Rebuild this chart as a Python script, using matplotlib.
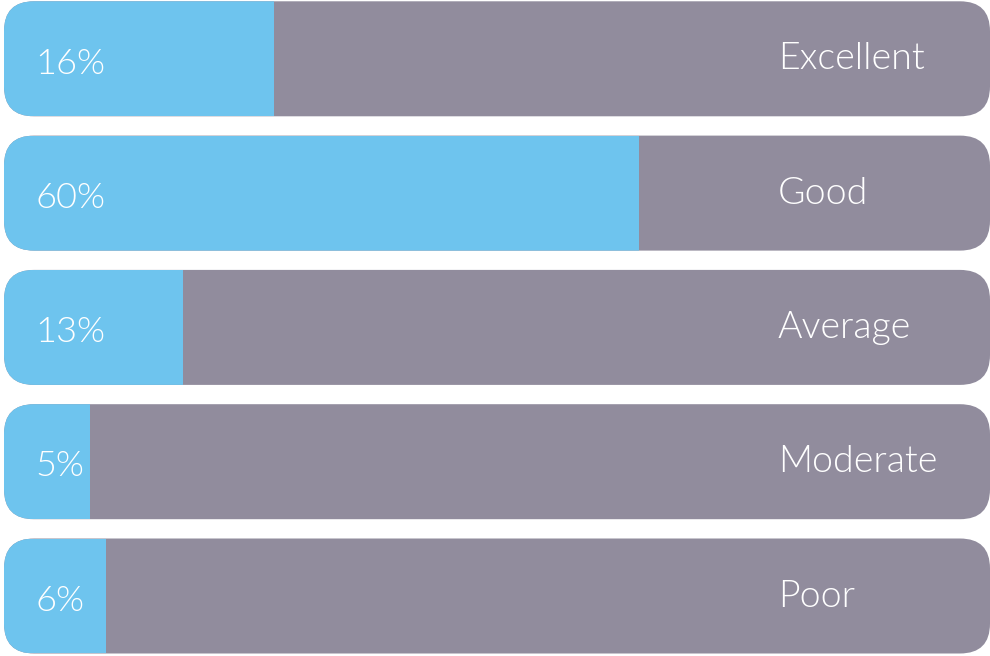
import matplotlib
matplotlib.use("Agg")
import matplotlib.pyplot as plt
from matplotlib.patches import FancyBboxPatch

categories = ["Excellent", "Good", "Average", "Moderate", "Poor"]
pct_labels = ["16%", "60%", "13%", "5%", "6%"]
# visible fill length of the blue part, as % of the track
fill = [27.4, 64.4, 18.2, 8.7, 10.3]

track_color = "#918c9d"
fill_color = "#6ec4ee"

W, H = 990, 656
fig = plt.figure(figsize=(W / 100, H / 100), dpi=100)
left_px, right_px = 4, 990
ax = fig.add_axes([left_px / W, 0, (right_px - left_px) / W, 1])
ax.set_xlim(0, 100)
spacing = 134.3
top_center = 58.8
y_top = -top_center / spacing
y_bot = y_top + H / spacing
ax.set_ylim(y_bot, y_top)
ax.axis("off")

px_x = (right_px - left_px) / 100.0
bar_h = 115 / spacing
radius_px = 30
rx = radius_px / px_x
ry = radius_px / spacing
aspect = ry / rx

for i, (cat, lab, f) in enumerate(zip(categories, pct_labels, fill)):
    track = FancyBboxPatch((0, i - bar_h / 2), 100, bar_h,
                           boxstyle=f"round,pad=0,rounding_size={rx}",
                           mutation_aspect=aspect,
                           facecolor=track_color, edgecolor="none", zorder=1)
    ax.add_patch(track)
    bars = ax.barh([i], [f], height=bar_h, left=0, color=fill_color, zorder=2)
    for b in bars:
        b.set_clip_path(track)
    ax.text(3.2, i + 0.035, lab, color="white", fontsize=26, family="Lato",
            fontweight=300, va="center", ha="left", zorder=3)
    ax.text(78.5, i + 0.005, cat, color="white", fontsize=27, family="Lato",
            fontweight=300, va="center", ha="left", zorder=3)

fig.savefig("out.png", dpi=100)
